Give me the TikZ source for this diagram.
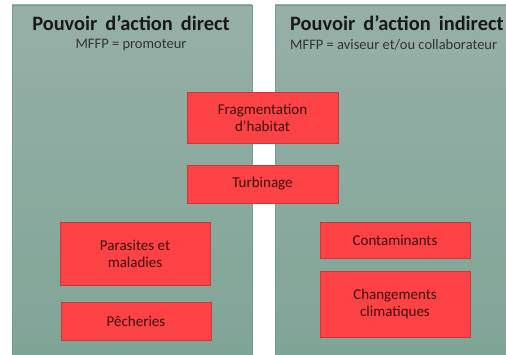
\documentclass[tikz,border=0pt]{standalone}
\usepackage{fontspec}
\setmainfont{Carlito}
\definecolor{paneltop}{HTML}{97B0A7}
\definecolor{panelbot}{HTML}{7FA597}
\definecolor{panelline}{HTML}{6E9E98}
\definecolor{boxfill}{HTML}{FC4245}
\definecolor{boxline}{HTML}{C53A3A}
\definecolor{boxtext}{HTML}{3E1010}
\begin{document}
\begin{tikzpicture}[x=1pt,y=-1pt,
  panel/.style={draw=panelline,line width=0.8pt,top color=paneltop,bottom color=panelbot},
  redbox/.style={draw=boxline,line width=0.6pt,fill=boxfill,text=boxtext,align=center,
    font=\fontsize{15}{17}\selectfont,inner sep=0pt},
  title/.style={font=\fontsize{20.4}{22}\selectfont\bfseries,text=black!90,inner sep=0pt},
  subtitle/.style={font=\fontsize{14.5}{16}\selectfont,text=black!80,inner sep=0pt}]
\useasboundingbox (0,0) rectangle (506,355);
\fill[white] (0,0) rectangle (506,355);
\path[panel] (12,5) rectangle (252,360);
\path[panel] (275,5) rectangle (512,360);
\node[title] (t1) at (131,23) {Pouvoir\, d’action\, direct};
\node[subtitle] (s1) at (131,45) {MFFP = promoteur};
\node[title,anchor=west] (t2) at (290,23) {Pouvoir\, d’action\, indirect};
\node[subtitle,anchor=west] (s2) at (290,45) {MFFP = aviseur et/ou collaborateur};
\node[redbox,minimum width=151pt,minimum height=51pt] (frag) at (262.5,117.5) {Fragmentation\\d’habitat};
\node[redbox,minimum width=151pt,minimum height=38pt] (turb) at (262.5,184) {Turbinage};
\node[redbox,minimum width=150pt,minimum height=63pt] (para) at (135,253.5) {Parasites et\\maladies};
\node[redbox,minimum width=150pt,minimum height=38pt] (pech) at (136,321) {Pêcheries};
\node[redbox,minimum width=150pt,minimum height=36pt] (cont) at (395,240) {Contaminants};
\node[redbox,minimum width=150pt,minimum height=66pt] (chg) at (395,304) {Changements\\climatiques};
\end{tikzpicture}
\end{document}
